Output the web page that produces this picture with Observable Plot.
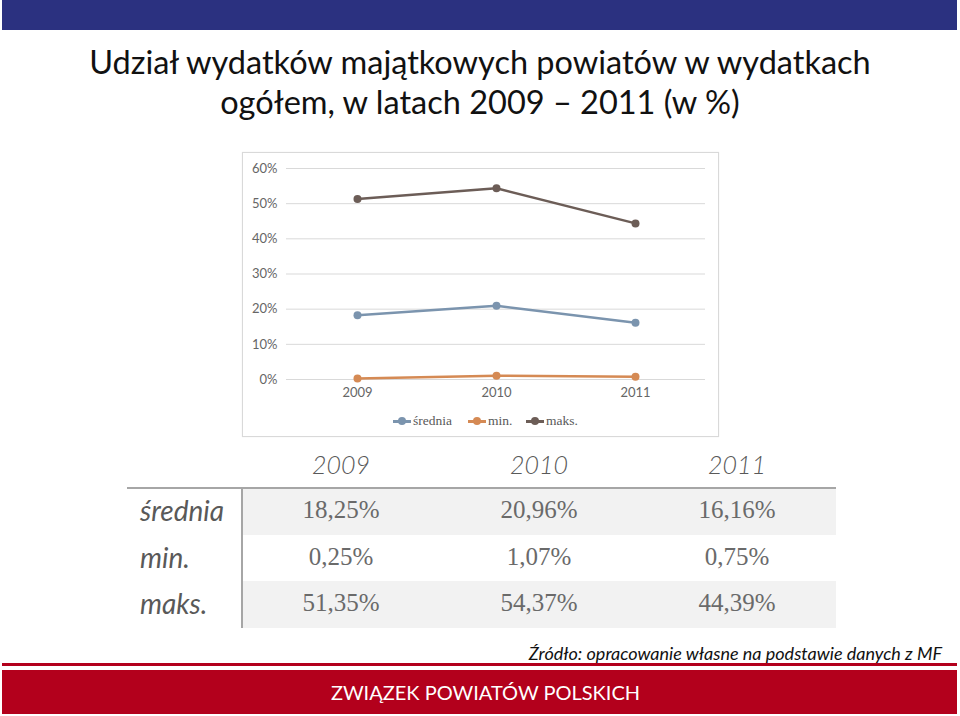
<!DOCTYPE html>
<html>
<head>
<meta charset="utf-8">
<script src="https://cdn.jsdelivr.net/npm/d3@7"></script>
<script src="https://cdn.jsdelivr.net/npm/@observablehq/plot@0.6"></script>
<style>
  html, body { margin: 0; padding: 0; background: #fff; }
  #page { position: relative; width: 960px; height: 716px; overflow: hidden; background: #fff; font-family: Lato, "Open Sans", sans-serif; }
  .abs { position: absolute; }
  #topbar { left: 2px; top: 0; width: 955px; height: 30px; background: #2b3180; }
  #title { left: 0; width: 960px; top: 42px; text-align: center; font-size: 32.5px; line-height: 40px; color: #111; font-weight: 400; }
  #box { left: 242px; top: 152px; width: 475px; height: 283px; border: 1px solid #d9d9d9; box-shadow: 0 0 1px #e5e5e5; background: #fff; }
  #legend { left: 0; top: 258px; width: 475px; height: 20px; font-family: "Liberation Serif", serif; font-size: 13.5px; color: #595959; }
  .lg { position: absolute; top: 0; display: flex; align-items: center; height: 20px; }
  .sw { position: relative; width: 18px; height: 20px; margin-right: 2px; }
  .sw .ln { position: absolute; left: 0; top: 9px; width: 18px; height: 2.5px; }
  .sw .pt { position: absolute; left: 5px; top: 6px; width: 8px; height: 8px; border-radius: 50%; }
  .hdr { font-style: italic; font-weight: 300; font-size: 25px; color: #595959; width: 200px; text-align: center; top: 449px; }
  .rowlab { font-style: italic; font-weight: 400; font-size: 28px; color: #595959; left: 140px; }
  .cell { font-family: "Liberation Serif", serif; font-size: 25px; color: #6a6a6a; width: 200px; text-align: center; }
  .rowbg { left: 243px; width: 593px; background: #f2f2f2; }
  #hline { left: 127px; top: 487px; width: 709px; height: 2px; background: #a6a6a6; }
  #vline { left: 241px; top: 488px; width: 2px; height: 140px; background: #a6a6a6; }
  #source { right: 18px; top: 642px; font-style: italic; font-size: 18px; color: #111; }
  #redthin { left: 2px; top: 663px; width: 955px; height: 3px; background: #b3001c; }
  #redbar { left: 2px; top: 670px; width: 943px; padding-left: 12px; height: 44px; background: #b3001c; color: #fff; text-align: center; font-size: 20px; line-height: 44px; }
</style>
</head>
<body>
<div id="page">
  <div id="topbar" class="abs"></div>
  <div id="title" class="abs">Udział wydatków majątkowych powiatów w wydatkach<br>ogółem, w latach 2009 – 2011 (w %)</div>
  <div id="box" class="abs"><div id="chart" class="abs" style="left:0;top:0"></div><div id="legend" class="abs"></div></div>
  <div id="table"></div>
  <div id="source" class="abs">Źródło: opracowanie własne na podstawie danych z MF</div>
  <div id="redthin" class="abs"></div>
  <div id="redbar" class="abs">ZWIĄZEK POWIATÓW POLSKICH</div>
</div>
<script>
// ---- data ----
const years = ["2009", "2010", "2011"];
const seriesNames = ["średnia", "min.", "maks."];
const srednia = [18.25, 20.96, 16.16];
const minimum = [0.25, 1.07, 0.75];
const maksimum = [51.35, 54.37, 44.39];
const seriesColors = ["#7b94ae", "#d58a54", "#6c5d57"];
const yTicks = [0, 0.1, 0.2, 0.3, 0.4, 0.5, 0.6];

const seriesValues = [srednia, minimum, maksimum];
const data = [];
seriesNames.forEach((s, si) => years.forEach((y, i) => data.push({year: y, series: s, value: seriesValues[si][i] / 100})));

const chart = Plot.plot({
  width: 475,
  height: 256,
  marginLeft: 43,
  marginRight: 13,
  marginTop: 15,
  marginBottom: 30,
  style: {fontFamily: "Lato, 'Open Sans', sans-serif", fontSize: "13px", color: "#666", background: "transparent", overflow: "visible"},
  x: {type: "point", domain: years, padding: 0.5, label: null, tickSize: 0, tickPadding: 8},
  y: {domain: [0, 0.6], ticks: yTicks, tickFormat: d3.format(".0%"), label: null, tickSize: 0, tickPadding: 9},
  color: {domain: seriesNames, range: seriesColors},
  marks: [
    Plot.ruleY(yTicks, {stroke: "#d9d9d9", strokeWidth: 1}),
    Plot.line(data, {x: "year", y: "value", z: "series", stroke: "series", strokeWidth: 2.5}),
    Plot.dot(data, {x: "year", y: "value", fill: "series", r: 4})
  ]
});
document.getElementById("chart").appendChild(chart);

// legend
const legend = document.getElementById("legend");
const legendX = [150, 225, 283];
seriesNames.forEach((s, i) => {
  const it = document.createElement("div");
  it.className = "lg";
  it.style.left = legendX[i] + "px";
  it.innerHTML = `<div class="sw"><div class="ln" style="background:${seriesColors[i]}"></div><div class="pt" style="background:${seriesColors[i]}"></div></div><span>${s}</span>`;
  legend.appendChild(it);
});

// table
const table = document.getElementById("table");
const colX = [341, 539, 737];
const rowTop = [488, 535, 581];
const fmt = v => v.toFixed(2).replace(".", ",") + "%";
function add(cls, style, text) {
  const d = document.createElement("div");
  d.className = "abs " + cls;
  Object.assign(d.style, style);
  if (text != null) d.textContent = text;
  table.appendChild(d);
}
add("rowbg", {top: rowTop[0] + "px", height: "47px"});
add("rowbg", {top: rowTop[2] + "px", height: "47px"});
years.forEach((y, i) => add("hdr", {left: (colX[i] - 100) + "px"}, y));
seriesNames.forEach((s, r) => {
  add("rowlab", {top: (rowTop[r] + 5) + "px"}, s);
  seriesValues[r].forEach((v, c) => add("cell", {left: (colX[c] - 100) + "px", top: (rowTop[r] + 8) + "px"}, fmt(v)));
});
const hl = document.createElement("div"); hl.id = "hline"; hl.className = "abs"; table.appendChild(hl);
const vl = document.createElement("div"); vl.id = "vline"; vl.className = "abs"; table.appendChild(vl);
</script>
</body>
</html>
